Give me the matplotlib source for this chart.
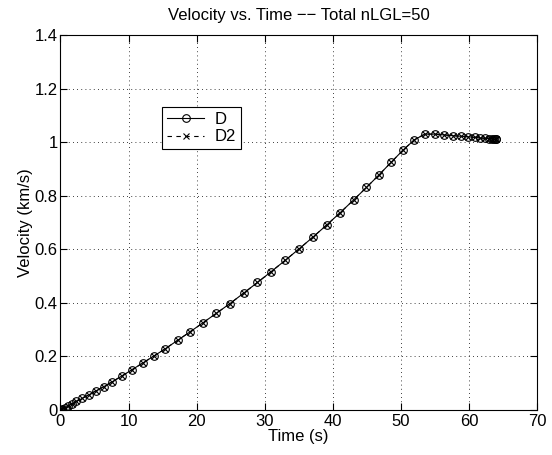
import matplotlib
matplotlib.use("Agg")
import matplotlib.pyplot as plt

plt.rcParams['font.family'] = ['Liberation Sans', 'DejaVu Sans']

# Time nodes (s)
time_s = [0.000, 0.066, 0.263, 0.590, 1.047, 1.630, 2.339, 3.169, 4.118, 5.181,
          6.355, 7.634, 9.013, 10.486, 12.048, 13.692, 15.412, 17.199, 19.047, 20.948,
          22.895, 24.879, 26.893, 28.927, 30.974, 33.026, 35.073, 37.107, 39.121, 41.105,
          43.052, 44.953, 46.801, 48.588, 50.308, 51.952, 53.514, 54.987, 56.366, 57.645,
          58.819, 59.882, 60.831, 61.661, 62.370, 62.953, 63.410, 63.737, 63.934, 64.000]

# Velocity (km/s)
vel_D = [0.000, 0.001, 0.004, 0.008, 0.014, 0.023, 0.032, 0.043, 0.056, 0.071,
         0.087, 0.106, 0.127, 0.150, 0.175, 0.201, 0.229, 0.260, 0.292, 0.326,
         0.361, 0.397, 0.436, 0.476, 0.517, 0.559, 0.602, 0.646, 0.691, 0.737,
         0.784, 0.831, 0.878, 0.925, 0.970, 1.008, 1.030, 1.030, 1.027, 1.024,
         1.022, 1.020, 1.018, 1.016, 1.014, 1.013, 1.012, 1.011, 1.011, 1.011]
vel_D2 = list(vel_D)

series_labels = ["D", "D2"]
x_ticks = [0, 10, 20, 30, 40, 50, 60, 70]
y_ticks = [0, 0.2, 0.4, 0.6, 0.8, 1.0, 1.2, 1.4]
y_tick_labels = ["0", "0.2", "0.4", "0.6", "0.8", "1", "1.2", "1.4"]

fig = plt.figure(figsize=(5.52, 4.55), dpi=100)
ax = fig.add_axes([0.1096, 0.0989, 0.8632, 0.8242])

ax.plot(time_s, vel_D, color='black', linestyle='-', linewidth=0.8,
        marker='o', markersize=5.5, markerfacecolor='none', markeredgewidth=0.8,
        label=series_labels[0])
ax.plot(time_s, vel_D2, color='black', linestyle=(0, (4, 4)), linewidth=0.8,
        marker='x', markersize=4, markeredgewidth=0.8,
        label=series_labels[1])

ax.set_xlim(0, 70)
ax.set_ylim(0, 1.4)
ax.set_xticks(x_ticks)
ax.set_xticklabels([str(v) for v in x_ticks])
ax.set_yticks(y_ticks)
ax.set_yticklabels(y_tick_labels)
ax.tick_params(direction='in', top=True, right=True, labelsize=12, length=5,
               width=0.8, pad=2)
ax.tick_params(axis='x', pad=3)
for s in ax.spines.values():
    s.set_linewidth(0.8)
ax.grid(True, linestyle=(0, (1, 4)), color='black', linewidth=0.6)

ax.set_title("Velocity vs. Time \u2212\u2212 Total nLGL=50", fontsize=12, pad=11)
ax.set_xlabel("Time (s)", fontsize=12, labelpad=0)
ax.set_ylabel("Velocity (km/s)", fontsize=12, labelpad=1)

leg = ax.legend(loc='upper left', bbox_to_anchor=(0.214, 0.808), fontsize=12,
                frameon=True, fancybox=False, edgecolor='black', framealpha=1,
                handlelength=2.2, borderpad=0.3, labelspacing=0.15,
                handletextpad=0.6, borderaxespad=0)
leg.get_frame().set_linewidth(0.8)

fig.savefig("out.png", dpi=100)
